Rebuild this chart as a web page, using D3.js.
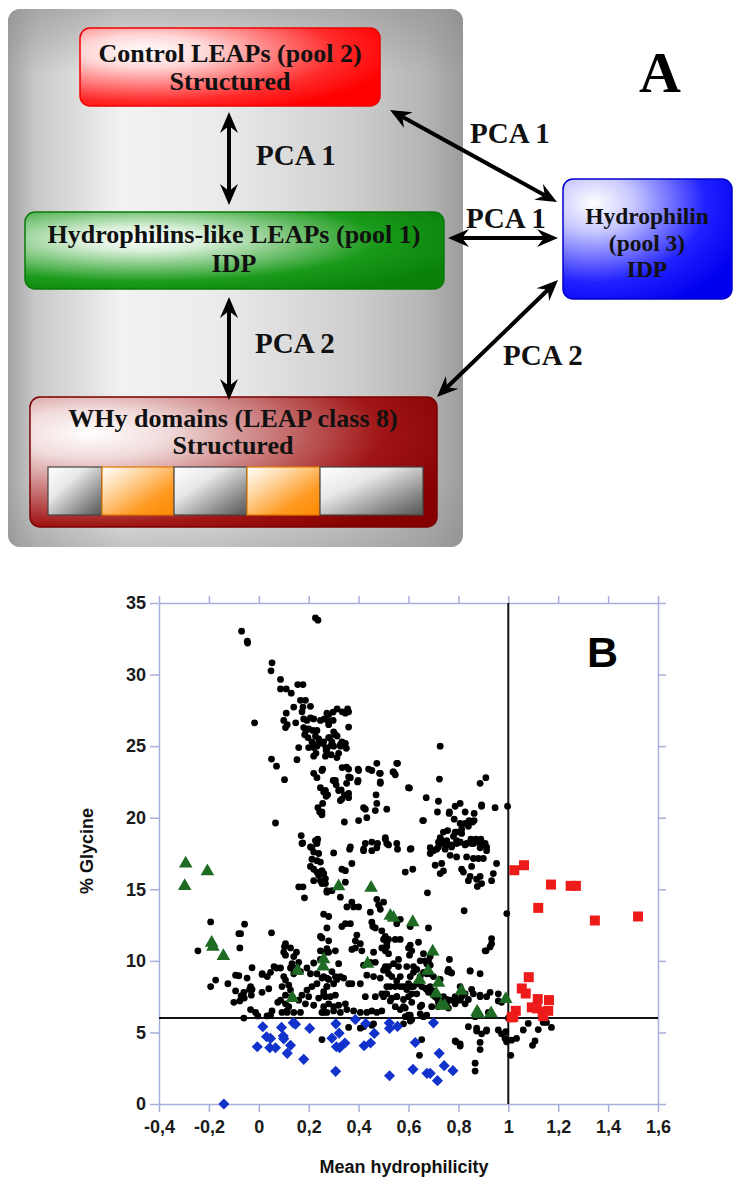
<!DOCTYPE html>
<html><head><meta charset="utf-8">
<script src="https://cdn.jsdelivr.net/npm/d3@7"></script>
<style>body{margin:0;background:#fff;}svg{display:block;}</style>
</head><body>
<svg id="fig" width="748" height="1185"></svg>
<script>
// ---------- Panel B data ----------
const xTicks = [-0.4,-0.2,0,0.2,0.4,0.6,0.8,1,1.2,1.4,1.6];
const yTicks = [0,5,10,15,20,25,30,35];
const glyThreshold = 6;
const hydThreshold = 1;

// Black dots: all LEAP sequences [mean hydrophilicity, % glycine]
const allLeaps = [
[-0.069,33.03],[-0.046,32.33],[-0.045,32.2],[0.227,33.96],[0.237,33.8],[0.053,30.82],[0.049,30.26],[0.087,29.66],[0.087,29.0],[0.11,29.0],[0.13,28.7],[0.156,29.3],[0.177,29.3],[0.167,28.2],[0.187,28.2],[0.14,27.73],[0.177,27.73],[0.207,27.78],[0.11,27.3],[0.173,27.4],[-0.017,26.63],[0.1,26.8],[0.114,26.5],[0.107,26.3],[0.148,26.63],[0.18,26.9],[0.193,26.8],[0.207,26.97],[0.22,26.9],[0.247,26.8],[0.273,27.3],[0.276,26.8],[0.18,26.3],[0.189,26.1],[0.2,26.2],[0.216,26.1],[0.233,26.1],[0.184,25.8],[0.197,25.6],[0.213,25.3],[0.227,25.7],[0.24,25.5],[0.233,25.1],[0.253,25.2],[0.2,24.9],[0.22,24.9],[0.233,25.0],[0.269,24.9],[0.28,25.6],[0.273,24.8],[0.22,24.3],[0.229,24.5],[0.267,24.3],[0.16,24.9],[0.153,24.05],[0.051,24.1],[0.071,23.6],[0.103,22.66],[0.067,19.63],[0.256,23.4],[0.22,23.1],[0.233,22.8],[0.247,22.1],[0.267,21.9],[0.276,21.6],[0.237,20.7],[0.244,20.4],[0.253,20.2],[0.17,18.75],[0.176,18.24],[0.227,18.4],[0.236,18.5],[0.233,18.2],[0.213,17.9],
[0.298,27.38],[0.314,27.6],[0.334,27.4],[0.347,27.3],[0.356,27.6],[0.36,27.4],[0.36,26.33],[0.28,27.2],[0.298,26.8],[0.284,25.6],[0.293,25.3],[0.29,25.05],[0.314,25.7],[0.327,25.1],[0.347,25.2],[0.351,24.85],[0.32,24.5],[0.313,24.2],[0.352,23.54],[0.36,22.85],[0.352,22.4],[0.36,21.7],[0.343,21.6],[0.327,21.2],[0.298,22.6],[0.31,22.3],[0.32,21.9],[0.33,21.95],[0.398,23.4],[0.398,22.6],[0.343,19.7],[0.44,23.4],[0.453,23.3],[0.473,23.8],[0.484,23.1],[0.487,22.4],[0.47,21.6],[0.473,21.0],[0.467,20.5],[0.513,20.6],[0.4,19.8],[0.433,20.0],[0.42,20.7],[0.427,20.6],[0.538,23.2],[0.547,23.0],[0.556,23.8],[0.6,22.1],
[0.263,26.9],[0.28,26.5],[0.3,26.0],[0.307,25.8],[0.333,25.3],[0.327,25.0],[0.3,25.0],[0.27,24.7],[0.26,25.3],[0.29,24.4],[0.334,23.5],[0.36,23.4],[0.367,22.8],[0.253,23.3],[0.307,22.6],[0.36,21.4],[0.333,21.3],[0.27,21.5],[0.26,21.8],[0.4,23.3],[0.396,22.5],[0.253,20.4],[0.256,21.0],
[0.604,22.07],[0.671,21.4],[0.72,21.15],[0.716,20.4],[0.66,19.8],[0.724,22.7],[0.727,25.0],[0.764,20.4],[0.787,20.8],[0.807,21.0],[0.827,20.4],[0.863,20.3],[0.893,20.9],[0.843,19.8],[0.863,19.8],[0.887,22.4],[0.91,22.8],[0.427,18.2],[0.453,18.3],[0.507,18.5],[0.513,18.2],[0.556,17.8],[0.473,17.9],[0.364,17.8],[0.42,17.8],[0.607,17.8],[0.727,18.6],[0.78,18.7],[0.787,19.0],[0.813,18.9],[0.793,18.4],[0.807,18.3],[0.833,18.2],[0.86,18.2],[0.887,17.9],[0.687,17.9],[0.713,17.8],[0.747,17.8],[0.773,18.1],
[0.553,23.8],[0.54,23.2],[0.947,20.7],[0.997,20.8],[0.657,19.8],[0.763,20.3],[0.783,19.9],[0.844,19.7],[0.857,19.7],[0.893,20.8],[0.507,18.6],[0.553,18.2],[0.487,23.1],[0.487,22.5],
[0.72,18.3],[0.733,18.4],[0.753,18.4],[0.757,19.1],[0.793,19.0],[0.813,19.2],[0.827,19.6],[0.807,19.6],[0.84,19.4],[0.85,18.5],[0.87,18.5],[0.89,18.5],[0.913,17.95],[0.74,19.0],
[0.3,17.54],[0.367,17.96],[0.42,17.7],[0.453,17.7],[0.476,18.2],[0.52,18.1],[0.61,17.84],[0.687,17.5],[0.7,17.7],[0.72,17.96],[0.74,18.2],[0.753,18.1],[0.773,17.96],[0.793,18.2],[0.807,18.3],[0.827,18.1],[0.853,18.2],[0.873,18.3],[0.893,18.1],[0.913,17.7],[0.907,18.2],[0.767,17.37],[0.793,17.26],[0.833,17.26],[0.86,17.15],[0.88,17.15],[0.9,17.15],
[0.707,16.68],[0.727,16.1],[0.74,16.28],[0.733,16.8],[0.813,16.4],[0.82,16.2],[0.853,16.6],[0.893,15.4],[0.887,15.9],[0.933,15.6],[0.587,16.2],[0.617,16.4],[0.676,14.75],[0.823,13.5],[0.907,10.7],
[0.247,16.9],[0.26,16.1],[0.247,15.6],[0.267,15.4],[0.273,14.8],[0.293,14.9],[0.347,15.5],[0.327,14.45],[0.333,16.4],[0.347,16.3],[0.373,16.8],[0.353,13.77],[0.373,14.1],[0.38,13.77],[0.4,13.77],[0.367,12.6],[0.347,12.6],[0.333,12.4],[0.447,13.4],[0.473,14.3],[0.5,14.1],[0.48,13.9],[0.487,13.6],
[0.453,12.7],[0.457,12.4],[0.467,12.3],[0.493,12.1],[0.507,11.7],[0.5,11.5],[0.513,11.2],[0.52,11.5],[0.513,11.0],[0.507,10.7],[0.52,10.5],[0.493,10.9],[0.547,11.5],[0.567,11.5],[0.567,12.9],[0.553,12.6],
[0.607,11.1],[0.6,10.9],[0.613,10.7],[0.604,10.4],[0.64,11.3],[0.607,12.4],[0.68,12.3],[0.647,10.0],[0.667,10.0],[0.68,10.0],[0.687,9.7],[0.62,9.6],[0.633,9.4],[0.764,10.1],[0.76,9.4],[0.757,9.25],[0.847,9.3],[0.887,9.1],
[0.247,11.7],[0.28,11.4],[0.267,10.6],[0.307,10.7],[0.247,10.7],[0.393,11.8],[0.387,11.4],[0.373,10.8],[0.387,10.9],[0.407,11.2],[0.413,10.7],[0.42,9.7],[0.447,9.9],[0.467,9.9],[0.46,10.6],
[0.32,9.8],[0.293,9.25],[0.307,8.9],[0.327,8.9],[0.313,8.7],[0.34,8.8],[0.36,8.4],[0.373,8.4],[0.3,8.4],[0.273,8.2],[0.26,7.85],[0.253,8.8],[0.273,8.8],
[0.407,8.4],[0.433,9.0],[0.46,8.9],[0.487,8.8],[0.507,9.6],[0.513,9.4],[0.52,9.1],[0.533,8.9],[0.553,8.6],[0.56,9.6],[0.567,8.9],[0.58,8.2],[0.6,8.4],[0.62,8.2],[0.527,8.2],[0.547,8.2],[0.513,7.7],[0.5,7.5],[0.533,7.4],[0.553,7.5],[0.58,7.3],[0.6,7.5],[0.613,7.7],
[0.647,8.9],[0.673,9.1],[0.653,8.2],[0.673,8.0],[0.687,8.2],[0.7,7.9],[0.727,8.7],[0.707,7.5],[0.74,7.5],[0.753,7.3],[0.787,7.5],[0.807,8.2],[0.827,7.0],[0.84,7.3],[0.86,7.7],[0.887,7.5],[0.913,7.5],[0.747,6.9],[0.76,6.7],
[0.267,7.5],[0.287,7.5],[0.307,7.6],[0.28,7.0],[0.26,6.8],[0.3,6.8],[0.32,6.9],[0.347,7.0],[0.353,6.6],[0.327,6.4],[0.3,6.5],[0.273,6.4],[0.253,6.4],[0.38,6.5],[0.407,6.4],[0.433,6.4],[0.453,6.5],[0.473,6.4],[0.493,6.5],[0.427,7.5],[0.467,7.5],[0.493,7.7],
[0.587,6.7],[0.6,6.2],[0.607,5.8],[0.673,6.2],[0.647,6.8],[0.72,6.8],[0.753,6.8],[0.787,7.0],
[0.253,4.5],[0.36,5.35],[0.407,5.3],[0.42,5.4],[0.453,5.5],[0.46,5.6],[0.58,5.6],[0.653,4.5],[0.644,3.4],[0.787,4.4],[0.807,4.2],[0.84,5.4],[0.873,5.3],[0.873,5.1],[0.893,4.9],[0.913,5.1],[0.887,4.3],[0.887,3.8],[0.867,2.85],[0.867,2.3],
[0.994,13.3],[0.953,16.8],[0.94,16.1],[0.933,11.56],[0.933,11.2],[0.927,10.97],[0.911,10.7],[0.876,15.2],[0.873,15.7],[0.847,15.9],[0.84,15.6],
[0.847,9.3],[0.853,8.0],[0.887,7.6],[0.927,7.8],[0.96,7.7],[0.96,7.2],[0.973,7.1],[0.92,6.4],
[0.913,5.17],[0.96,5.17],[0.973,4.9],[0.99,5.05],[0.987,4.58],[0.993,4.35],[1.013,4.46],[1.033,4.58],[1.06,5.17],[1.08,5.63],[1.12,5.2],[1.14,5.7],[1.153,5.7],[1.173,5.35],[1.107,4.4],[1.097,4.1],[1.01,3.4],[0.79,4.35],[0.807,4.05],[1.0,6.0],[0.867,6.1],
[0.767,9.2],[0.773,9.15],[0.813,7.5],[0.827,7.7],[0.767,7.25],[0.753,7.1],[0.787,7.1],[0.74,7.25],[0.807,7.25],
[0.66,10.5],[0.687,10.3],[0.673,9.8],[0.66,9.2],[0.687,9.1],[0.7,8.9],[0.62,9.2],[0.593,9.6],[0.607,8.9],[0.633,8.4],[0.613,8.2],[0.593,8.0],[0.633,7.7],[0.567,8.2],[0.553,7.5],[0.667,8.1],[0.68,7.8],[0.7,7.6],[0.713,7.4],[0.72,7.1],[0.693,6.8],[0.653,6.9],[0.613,7.1],[0.58,6.8],[0.547,6.8],[0.527,7.2],[0.507,7.7],[0.513,8.2],[0.5,9.35],[0.52,9.6],[0.54,9.8],[0.56,10.1],[0.647,6.3],[0.607,6.2],[0.66,6.1],[0.613,5.9],[0.587,6.1],[0.567,6.6],
[0.173,18.2],[0.207,17.96],[0.233,18.3],[0.22,17.6],[0.24,17.5],[0.213,17.1],[0.233,17.0],[0.207,16.6],[0.22,16.4],[0.233,16.2],[0.253,16.3],[0.24,15.98],[0.26,16.1],[0.267,15.75],[0.22,15.6],[0.253,15.4],[0.273,14.9],[0.16,15.17],[0.177,15.17],[0.183,14.4],
[0.26,13.26],[0.28,13.1],[0.273,12.3],[0.253,11.6],[0.273,10.85],[0.28,10.6],
[-0.193,12.72],[-0.073,11.9],[-0.08,11.9],[-0.057,12.56],[-0.244,10.7],[-0.076,10.9],[0.051,11.96],
[0.107,11.2],[0.127,10.9],[0.1,10.6],[0.107,10.4],[0.151,10.6],[0.14,10.3],[0.16,9.9],[0.133,9.8],[0.153,9.5],[0.127,9.5],[0.167,9.25],[0.14,9.1],
[-0.027,9.52],[-0.047,8.8],[-0.093,9.0],[-0.08,8.96],[-0.124,8.4],[-0.093,7.9],[-0.173,8.66],[-0.193,8.2],[-0.033,8.2],[-0.027,8.0],[0.013,9.05],[0.047,9.2],[0.071,9.5],[0.04,8.05],[0.013,7.8],[-0.06,7.8],[-0.1,7.1],[-0.076,7.2],
[0.1,8.9],[0.107,8.66],[0.093,8.2],[0.12,8.3],[0.127,7.96],[0.107,7.6],[0.087,7.25],[0.107,7.0],[0.12,6.8],[0.113,6.5],[0.133,7.5],[0.16,7.25],[0.173,7.6],[0.193,7.96],[0.213,8.2],[0.233,8.4],[0.2,7.5],[0.187,7.0],[0.22,6.9],[0.24,7.4],[0.26,7.6],[0.273,8.2],[0.28,8.7],[0.26,8.9],[0.233,9.1],[0.207,9.1],[0.193,9.5],[0.22,9.85],[0.247,10.1],
[-0.06,6.0],[-0.033,6.6],[-0.013,6.4],[-0.004,6.15],[0.033,6.15],[0.047,6.2],[0.053,6.5],[0.076,7.1],[0.093,6.4],[0.113,6.4],[0.14,6.4],[0.167,6.4],[0.26,6.4],
[0.103,11.0],[0.087,9.5],[0.061,9.6],[0.034,8.9],[0.014,9.1],[-0.071,7.56],[-0.037,8.0],[-0.03,7.6],[-0.058,7.4]
];

// Green triangles: hydrophilins-like LEAPs (pool 1)
const pool1 = [[-0.293,16.8],[-0.297,15.23],[-0.206,16.26],[-0.189,11.26],[-0.184,10.98],[-0.142,10.33],[0.155,9.3],[0.135,7.4],[0.26,10.1],[0.258,9.6],[0.32,15.2],[0.45,15.1],[0.436,9.8],[0.527,13.14],[0.54,13.0],[0.617,12.7],[0.697,10.65],[0.678,9.3],[0.644,8.68],[0.72,8.47],[0.711,7.72],[0.812,7.9],[0.73,6.9],[0.745,6.86],[0.875,6.44],[0.88,6.3],[0.931,6.33],[0.99,7.33]];

// Red squares: control LEAPs (pool 2)
const pool2 = [[1.024,16.33],[1.063,16.68],[1.171,15.33],[1.25,15.24],[1.271,15.24],[1.12,13.7],[1.347,12.82],[1.52,13.1],[1.082,8.86],[1.054,8.07],[1.07,7.72],[1.118,7.33],[1.163,7.26],[1.094,6.75],[1.114,6.68],[1.03,6.51],[1.02,6.09],[1.138,6.44],[1.16,6.51],[1.14,6.14],[1.013,6.05]];

// Blue diamonds: hydrophilins (pool 3)
const pool3 = [[-0.14,0],[-0.006,4.0],[0.016,5.4],[0.031,4.7],[0.047,4.58],[0.044,3.93],[0.067,3.93],[0.091,5.35],[0.098,4.75],[0.1,4.55],[0.127,4.1],[0.114,3.54],[0.138,5.67],[0.147,5.58],[0.18,3.12],[0.204,5.28],[0.293,4.6],[0.309,5.6],[0.322,4.95],[0.311,4.0],[0.324,3.93],[0.345,4.26],[0.308,2.28],[0.387,5.9],[0.429,5.62],[0.422,4.07],[0.448,4.26],[0.463,4.93],[0.523,5.66],[0.524,5.28],[0.556,5.42],[0.524,1.97],[0.7,5.67],[0.627,4.3],[0.723,3.54],[0.743,2.68],[0.778,2.33],[0.618,2.42],[0.674,2.14],[0.687,2.14],[0.716,1.63]];

// ---------- Panel A labels ----------
const boxRed = ["Control LEAPs (pool 2)", "Structured"];
const boxGreen = ["Hydrophilins-like LEAPs (pool 1)", "IDP"];
const boxWhy = ["WHy domains (LEAP class 8)", "Structured"];
const boxBlue = ["Hydrophilin", "(pool 3)", "IDP"];

const svg = d3.select("#fig");
const defs = svg.append("defs");

function radial(id, cx, cy, r, stops){
  const g = defs.append("radialGradient").attr("id", id)
    .attr("cx", cx).attr("cy", cy).attr("r", r).attr("fx", cx).attr("fy", cy);
  stops.forEach(s => g.append("stop").attr("offset", s[0]).attr("stop-color", s[1]));
}
function linear(id, x1, y1, x2, y2, stops){
  const g = defs.append("linearGradient").attr("id", id)
    .attr("x1", x1).attr("y1", y1).attr("x2", x2).attr("y2", y2);
  stops.forEach(s => g.append("stop").attr("offset", s[0]).attr("stop-color", s[1]).attr("stop-opacity", s[2] == null ? 1 : s[2]));
}

linear("grayH", 0, 0, 1, 0, [[0,"#a4a4a4"],[0.06,"#c8c8c8"],[0.25,"#f2f2f2"],[0.45,"#ececec"],[0.75,"#cfcfcf"],[0.92,"#b4b4b4"],[1,"#9c9c9c"]]);
linear("grayV", 0, 0, 0, 1, [[0,"#8a8a8a",0.55],[0.12,"#8a8a8a",0],[0.88,"#8a8a8a",0],[1,"#8a8a8a",0.45]]);
radial("gRed", 0.22, 0.3, 0.85, [[0,"#ffffff"],[0.25,"#ffd6d6"],[0.75,"#ff2a2a"],[1,"#ff0000"]]);
radial("gGreen", 0.28, 0.35, 0.8, [[0,"#ffffff"],[0.2,"#d8efd8"],[0.7,"#1a9a1a"],[1,"#0a820a"]]);
radial("gWhy", 0.15, 0.28, 0.95, [[0,"#ffffff"],[0.2,"#f1dada"],[0.75,"#a01515"],[1,"#860000"]]);
radial("gBlue", 0.18, 0.2, 0.95, [[0,"#ffffff"],[0.25,"#c8c8ff"],[0.7,"#2020ff"],[1,"#0000f0"]]);
linear("gSqGray", 0, 0, 1, 1, [[0,"#ffffff"],[0.35,"#e8e8e8"],[0.75,"#8a8a8a"],[1,"#555555"]]);
linear("gSqOrange", 0, 0, 1, 1, [[0,"#ffffff"],[0.3,"#ffd9a8"],[0.7,"#ff9a22"],[1,"#ff8800"]]);

const A = svg.append("g");
A.append("rect").attr("x",8).attr("y",9).attr("width",455).attr("height",538).attr("rx",12).attr("fill","url(#grayH)");
A.append("rect").attr("x",8).attr("y",9).attr("width",455).attr("height",538).attr("rx",12).attr("fill","url(#grayV)");

function box(x,y,w,h,fill,stroke){
  A.append("rect").attr("x",x).attr("y",y).attr("width",w).attr("height",h).attr("rx",10)
   .attr("fill",fill).attr("stroke",stroke).attr("stroke-width",1.5);
}
function lines(cx, baselines, labels, size){
  labels.forEach((t,i)=>A.append("text").attr("x",cx).attr("y",baselines[i]).attr("text-anchor","middle")
    .attr("font-family","'Liberation Serif', 'Times New Roman', serif").attr("font-weight","bold")
    .attr("font-size",size || 26).attr("fill","#111").text(t));
}
box(80,28,300,78,"url(#gRed)","#ee0000");
lines(230,[62,90],boxRed);
box(25,212,419,77,"url(#gGreen)","#0a7a0a");
lines(234,[243,272],boxGreen);
box(30,397,407,130,"url(#gWhy)","#7a0000");
lines(233,[427,454],boxWhy);
box(563,179,169,120,"url(#gBlue)","#0000cc");
lines(647,[224,250.5,277],boxBlue,23.5);

// modules inside WHy box
const modules = [[48,102,"g"],[102,174,"o"],[174,247,"g"],[247,320,"o"],[320,423,"g"]];
modules.forEach(m=>{
  A.append("rect").attr("x",m[0]).attr("y",467).attr("width",m[1]-m[0]).attr("height",48)
   .attr("fill", m[2]==="g" ? "url(#gSqGray)" : "url(#gSqOrange)")
   .attr("stroke", m[2]==="g" ? "#444" : "#e07800").attr("stroke-width",1.2);
});

// double arrows
function dblArrow(x1,y1,x2,y2){
  const dx=x2-x1, dy=y2-y1, L=Math.hypot(dx,dy), ux=dx/L, uy=dy/L, px=-uy, py=ux;
  const hl=21, hw=9, notch=14;
  A.append("line").attr("x1",x1+ux*notch).attr("y1",y1+uy*notch).attr("x2",x2-ux*notch).attr("y2",y2-uy*notch)
   .attr("stroke","#000").attr("stroke-width",4);
  [[x1,y1,1],[x2,y2,-1]].forEach(([tx,ty,s])=>{
    const bx=tx+s*ux*hl, by=ty+s*uy*hl;
    const nx=tx+s*ux*notch, ny=ty+s*uy*notch;
    A.append("path").attr("d",`M${tx},${ty}L${bx+px*hw},${by+py*hw}L${nx},${ny}L${bx-px*hw},${by-py*hw}Z`).attr("fill","#000");
  });
}
dblArrow(229,112,229,205);
dblArrow(229,297,229,400);
dblArrow(390,110,557,202);
dblArrow(448,238,558,238);
dblArrow(437,397,558,280);

function pca(x,y,t){
  A.append("text").attr("x",x).attr("y",y).attr("font-family","'Liberation Serif', 'Times New Roman', serif")
   .attr("font-weight","bold").attr("font-size",29).attr("fill","#111").text(t);
}
pca(256,165,"PCA 1");
pca(255,353,"PCA 2");
pca(470,143,"PCA 1");
pca(466,228,"PCA 1");
pca(503,365,"PCA 2");
A.append("text").attr("x",660).attr("y",92).attr("text-anchor","middle")
 .attr("font-family","'Liberation Serif', 'Times New Roman', serif").attr("font-weight","bold")
 .attr("font-size",58).attr("fill","#000").text("A");

// ---------- Panel B ----------
const x = d3.scaleLinear().domain([-0.4,1.6]).range([159,658]);
const y = d3.scaleLinear().domain([0,35]).range([1104,603]);
const axisColor = "#a9afdc";
const fmtX = v => { const r = Math.round(v*10)/10; return String(r).replace(".", ","); };
const B = svg.append("g");

function styleAxis(g){
  g.selectAll("path,line").attr("stroke",axisColor).attr("stroke-width",1.5);
  g.selectAll("text").attr("font-family","'Liberation Sans', Arial, sans-serif").attr("font-weight","bold")
    .attr("font-size",18).attr("fill","#1a1a1a");
}
B.append("g").attr("transform",`translate(0,${y(0)})`)
  .call(d3.axisBottom(x).tickValues(xTicks).tickFormat(fmtX).tickSize(8).tickSizeOuter(0).tickPadding(8)).call(styleAxis);
B.append("g").attr("transform",`translate(${x(-0.4)},0)`)
  .call(d3.axisLeft(y).tickValues(yTicks).tickFormat(d3.format("d")).tickSize(9).tickSizeOuter(0).tickPadding(4)).call(styleAxis);
B.append("g").attr("transform",`translate(0,${y(35)})`)
  .call(d3.axisTop(x).tickValues(xTicks).tickFormat("").tickSize(7).tickSizeOuter(0)).call(styleAxis);
B.append("g").attr("transform",`translate(${x(1.6)},0)`)
  .call(d3.axisRight(y).tickValues(yTicks).tickFormat("").tickSize(8).tickSizeOuter(0)).call(styleAxis);

// reference lines
B.append("line").attr("x1",x(-0.4)).attr("x2",x(1.6)).attr("y1",y(glyThreshold)).attr("y2",y(glyThreshold))
 .attr("stroke","#111").attr("stroke-width",2);
B.append("line").attr("x1",x(hydThreshold)).attr("x2",x(hydThreshold)).attr("y1",y(0)).attr("y2",y(35))
 .attr("stroke","#111").attr("stroke-width",2);

B.append("g").selectAll("circle").data(allLeaps).join("circle")
 .attr("cx",d=>x(d[0])).attr("cy",d=>y(d[1])).attr("r",3.4).attr("fill","#000");

const tri = d3.symbol().type(d3.symbolTriangle).size(80);
B.append("g").selectAll("path").data(pool1).join("path")
 .attr("d",tri).attr("transform",d=>`translate(${x(d[0])},${y(d[1])})`).attr("fill","#1f6b24");

const sq = d3.symbol().type(d3.symbolSquare).size(100);
B.append("g").selectAll("path").data(pool2).join("path")
 .attr("d",sq).attr("transform",d=>`translate(${x(d[0])},${y(d[1])})`).attr("fill","#ee1b1b");

const dia = d3.symbol().type(d3.symbolSquare).size(62);
B.append("g").selectAll("path").data(pool3).join("path")
 .attr("d",dia).attr("transform",d=>`translate(${x(d[0])},${y(d[1])}) rotate(45)`).attr("fill","#1232cc");

B.append("text").attr("x",587).attr("y",667).attr("font-family","'Liberation Sans', Arial, sans-serif")
 .attr("font-weight","bold").attr("font-size",43).attr("fill","#000").text("B");
B.append("text").attr("x",404).attr("y",1173).attr("text-anchor","middle")
 .attr("font-family","'Liberation Sans', Arial, sans-serif").attr("font-weight","bold").attr("font-size",18)
 .attr("fill","#111").text("Mean hydrophilicity");
B.append("text").attr("transform","translate(93,851) rotate(-90)").attr("text-anchor","middle")
 .attr("font-family","'Liberation Sans', Arial, sans-serif").attr("font-weight","bold").attr("font-size",18)
 .attr("fill","#111").text("% Glycine");
</script>
</body></html>
